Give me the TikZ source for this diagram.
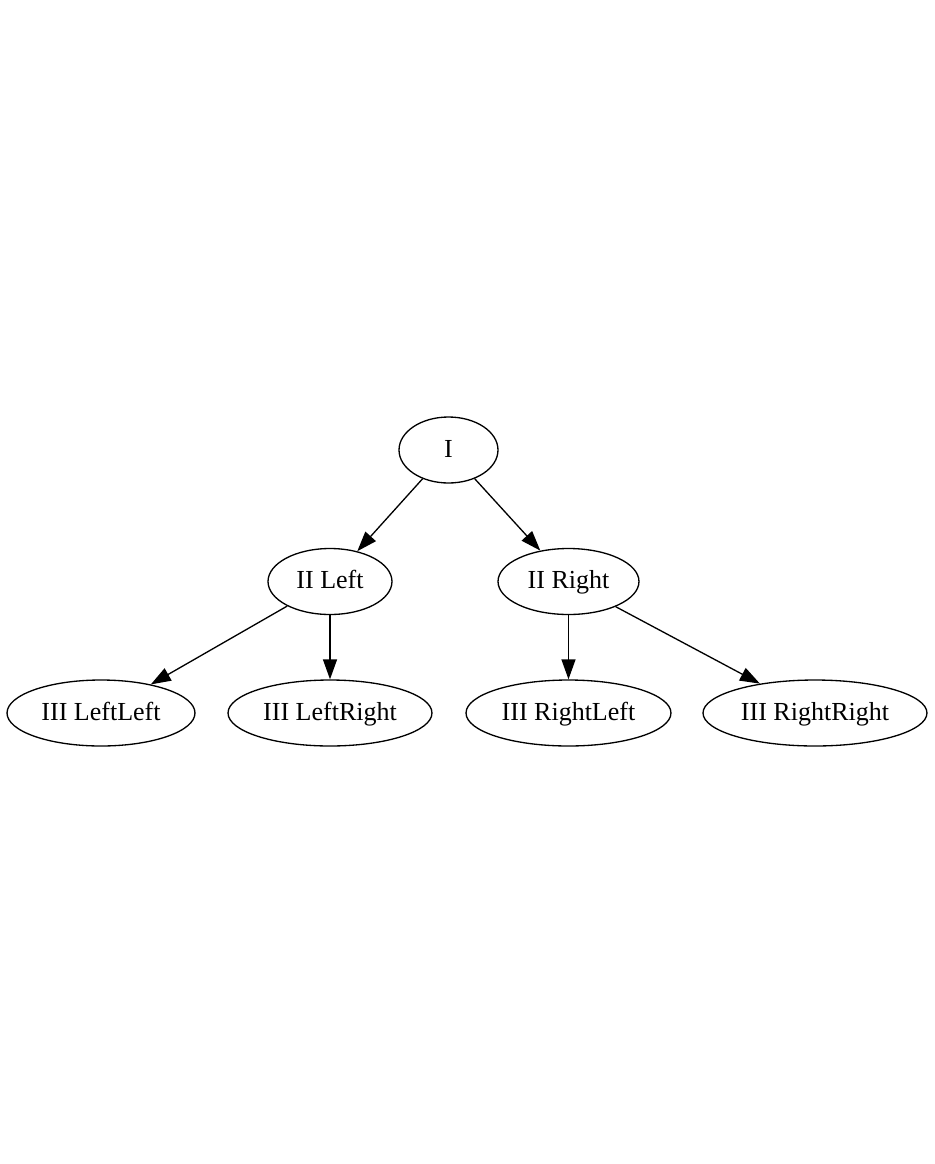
\documentclass[tikz,border=0pt]{standalone}
\usepackage{fontspec}
\setmainfont{Liberation Serif}
\usepackage{tikz}
\usetikzlibrary{arrows.meta,shapes.geometric}

\begin{document}
\begin{tikzpicture}[x=0.02cm,y=-0.02cm,>={Triangle[length=0.4cm,width=0.28cm]},
    line width=0.75pt,
    tnode/.style={ellipse,draw,inner sep=0pt,minimum height=1.32cm,
      text height=11pt,text depth=2.5pt,
      font=\fontsize{14.8}{17}\selectfont}]
    \useasboundingbox (0,0) rectangle (935,1164);

    \node[tnode,minimum width=1.98cm] (i)     at (448.5,450) {I};
    \node[tnode,minimum width=2.48cm] (iil)   at (330,581.5) {II Left};
    \node[tnode,minimum width=2.82cm] (iir)   at (568.5,581.5) {II Right};
    \node[tnode,minimum width=3.76cm] (iiill) at (101,713) {III LeftLeft};
    \node[tnode,minimum width=4.08cm] (iiilr) at (330,713) {III LeftRight};
    \node[tnode,minimum width=4.10cm] (iiirl) at (568.5,713) {III RightLeft};
    \node[tnode,minimum width=4.48cm] (iiirr) at (815,713) {III RightRight};

    \path[->]
    (i) edge (iil)
    (i) edge (iir)

    (iil) edge (iiill)
    (iil) edge (iiilr)

    (iir) edge (iiirl)
    (iir) edge (iiirr)
    ;
  \end{tikzpicture}
\end{document}
